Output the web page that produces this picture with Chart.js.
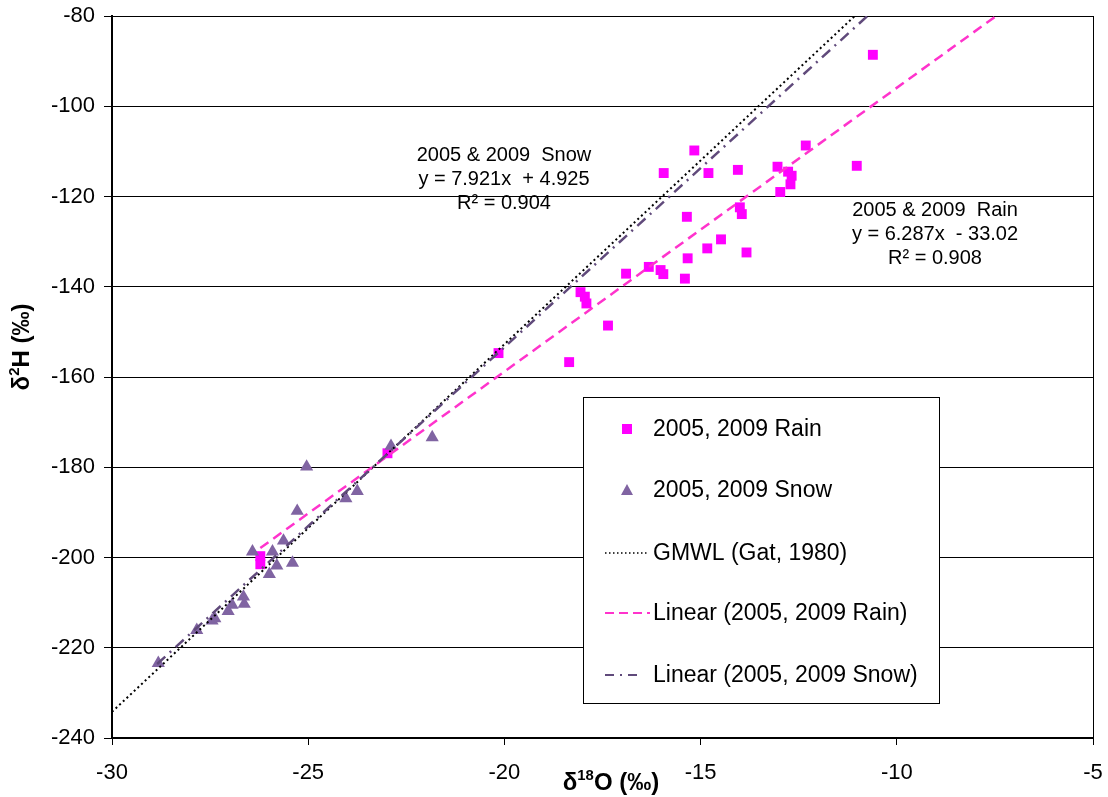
<!DOCTYPE html>
<html>
<head>
<meta charset="utf-8">
<script src="https://cdn.jsdelivr.net/npm/chart.js@4.4.1/dist/chart.umd.min.js"></script>
<style>
html, body { margin: 0; padding: 0; background: #fff; }
</style>
</head>
<body>
<canvas id="grafico-isotopos" width="1108" height="797"></canvas>
<script>
// valores (δ18O, δ2H em ‰)
const rainX = [-10.61, -11.02, -12.32, -13.04, -12.77, -12.68, -12.71, -12.97, -15.16, -15.94, -14.80,
    -14.05, -14.00, -13.95, -15.35, -14.48, -14.83, -13.83, -15.33, -15.40, -16.90, -16.32, -16.02,
    -15.95, -18.06, -17.95, -17.91, -17.36, -18.35, -20.15, -22.98, -26.22, -26.22];
const rainY = [-88.6, -113.2, -108.7, -113.4, -114.5, -115.4, -117.3, -119.0, -109.8, -114.8, -114.8,
    -114.1, -122.4, -123.9, -124.5, -129.5, -131.5, -132.4, -133.7, -138.2, -137.1, -135.6, -136.3,
    -137.2, -141.2, -142.2, -143.7, -148.6, -156.7, -154.7, -176.9, -199.7, -201.5];

const snowX = [-21.84, -22.89, -25.04, -23.75, -24.04, -25.28, -25.63, -26.42, -25.91, -25.40, -25.80,
    -25.99, -26.65, -26.63, -26.94, -27.04, -27.38, -27.45, -27.84, -28.82];
const snowY = [-173.4, -175.3, -179.9, -185.3, -186.9, -189.7, -196.3, -198.7, -198.7, -201.2, -201.8,
    -203.7, -208.7, -210.3, -210.5, -211.9, -213.5, -214.0, -216.1, -223.4];

// extremidades das retas
const gmwlX = [-30, -11.07];
const gmwlY = [-234.2, -80];
const rainFitX = [-26.22, -7.47];
const rainFitY = [-197.9, -80];
const snowFitX = [-28.85, -10.75];
const snowFitY = [-223.6, -80];

const xTicks = [-30, -25, -20, -15, -10, -5];
const yTicks = [-240, -220, -200, -180, -160, -140, -120, -100, -80];

const legendLabels = ['2005, 2009 Rain', '2005, 2009 Snow', 'GMWL (Gat, 1980)',
    'Linear (2005, 2009 Rain)', 'Linear (2005, 2009 Snow)'];
const snowNote = ['2005 & 2009  Snow', 'y = 7.921x  + 4.925', 'R² = 0.904'];
const rainNote = ['2005 & 2009  Rain', 'y = 6.287x  - 33.02', 'R² = 0.908'];

const FONT = '"Liberation Sans", Arial, sans-serif';
const RAIN = '#FF00FF';
const SNOW = '#8064A2';
const RAIN_FIT = '#FF33CC';
const SNOW_FIT = '#604A7B';

const pts = (xs, ys) => xs.map((x, i) => ({ x: x, y: ys[i] }));

function drawSupText(ctx, parts, cx, cy, size) {
    let w = 0;
    parts.forEach(p => {
        ctx.font = 'bold ' + (p.sup ? size * 0.62 : size) + 'px ' + FONT;
        p.w = ctx.measureText(p.t).width;
        w += p.w;
    });
    let x = cx - w / 2;
    parts.forEach(p => {
        ctx.font = 'bold ' + (p.sup ? size * 0.62 : size) + 'px ' + FONT;
        ctx.fillText(p.t, x, p.sup ? cy - size * 0.3 : cy);
        x += p.w;
    });
}

const extras = {
    id: 'extras',
    afterDraw(chart) {
        const ctx = chart.ctx;
        const a = chart.chartArea;
        ctx.save();

        // moldura direita
        ctx.strokeStyle = '#000';
        ctx.lineWidth = 1;
        ctx.beginPath();
        ctx.moveTo(Math.round(a.right) + 0.5, a.top);
        ctx.lineTo(Math.round(a.right) + 0.5, a.bottom);
        ctx.stroke();

        // equações
        ctx.fillStyle = '#000';
        ctx.font = '20px ' + FONT;
        ctx.textAlign = 'center';
        ctx.textBaseline = 'middle';
        snowNote.forEach((t, i) => ctx.fillText(t, 504, 155 + i * 24));
        rainNote.forEach((t, i) => ctx.fillText(t, 935, 210 + i * 24));

        // legenda
        ctx.fillStyle = '#fff';
        ctx.fillRect(583.5, 397.5, 356, 306);
        ctx.strokeStyle = '#000';
        ctx.strokeRect(583.5, 397.5, 356, 306);
        const rows = [429, 490, 553, 613, 675];
        ctx.textAlign = 'left';
        ctx.fillStyle = '#000';
        ctx.font = '23px ' + FONT;
        legendLabels.forEach((t, i) => ctx.fillText(t, 653, rows[i] + 1));

        ctx.fillStyle = RAIN;
        ctx.fillRect(622, rows[0] - 5, 10, 10);
        ctx.fillStyle = SNOW;
        ctx.beginPath();
        ctx.moveTo(627, rows[1] - 6);
        ctx.lineTo(633, rows[1] + 5);
        ctx.lineTo(621, rows[1] + 5);
        ctx.closePath();
        ctx.fill();

        const sample = (y, color, dash, width, x1) => {
            ctx.strokeStyle = color;
            ctx.lineWidth = width;
            ctx.setLineDash(dash);
            ctx.beginPath();
            ctx.moveTo(605, y);
            ctx.lineTo(x1, y);
            ctx.stroke();
        };
        sample(rows[2], '#000', [1.5, 2.5], 1.5, 647);
        sample(rows[3], RAIN_FIT, [9, 5], 2, 650);
        sample(rows[4], SNOW_FIT, [9, 6, 2, 6], 2, 643);
        ctx.setLineDash([]);

        // títulos dos eixos
        ctx.fillStyle = '#000';
        ctx.textAlign = 'left';
        ctx.textBaseline = 'middle';
        drawSupText(ctx, [{ t: 'δ' }, { t: '18', sup: true }, { t: 'O (‰)' }], 611, 783, 24);
        ctx.translate(22, 347);
        ctx.rotate(-Math.PI / 2);
        drawSupText(ctx, [{ t: 'δ' }, { t: '2', sup: true }, { t: 'H (‰)' }], 0, 0, 24);
        ctx.restore();
    }
};

const ctx = document.getElementById('grafico-isotopos').getContext('2d');
Chart.defaults.font.family = FONT;
Chart.defaults.color = '#000';

new Chart(ctx, {
    type: 'scatter',
    data: {
        datasets: [
            {
                label: legendLabels[0],
                data: pts(rainX, rainY),
                pointStyle: 'rect',
                pointRadius: 7,
                backgroundColor: RAIN,
                borderWidth: 0,
                order: 5
            },
            {
                label: legendLabels[1],
                data: pts(snowX, snowY),
                pointStyle: 'triangle',
                pointRadius: 7.6,
                backgroundColor: SNOW,
                borderWidth: 0,
                order: 4
            },
            {
                label: legendLabels[2],
                data: pts(gmwlX, gmwlY),
                showLine: true,
                pointRadius: 0,
                borderColor: '#000',
                borderWidth: 2,
                borderDash: [2, 3],
                order: 3
            },
            {
                label: legendLabels[3],
                data: pts(rainFitX, rainFitY),
                showLine: true,
                pointRadius: 0,
                borderColor: RAIN_FIT,
                borderWidth: 2.5,
                borderDash: [10, 6],
                order: 2
            },
            {
                label: legendLabels[4],
                data: pts(snowFitX, snowFitY),
                showLine: true,
                pointRadius: 0,
                borderColor: SNOW_FIT,
                borderWidth: 2.5,
                borderDash: [11, 6, 2, 6],
                order: 1
            }
        ]
    },
    options: {
        responsive: false,
        animation: false,
        layout: { padding: { top: 16, right: 15, left: 0, bottom: 0 } },
        plugins: {
            legend: { display: false },
            tooltip: { enabled: false }
        },
        scales: {
            x: {
                type: 'linear',
                min: -30,
                max: -5,
                afterFit: (s) => { s.height = 59; s.paddingLeft = 0; s.paddingRight = 0; },
                afterBuildTicks: (s) => { s.ticks = xTicks.map(v => ({ value: v })); },
                grid: { drawOnChartArea: false, drawTicks: true, tickLength: 7, color: '#000', lineWidth: 1 },
                border: { display: true, color: '#000', width: 2 },
                ticks: { font: { size: 22 }, color: '#000', padding: 15, maxRotation: 0 }
            },
            y: {
                type: 'linear',
                min: -240,
                max: -80,
                afterFit: (s) => { s.width = 112; s.paddingTop = 0; s.paddingBottom = 0; },
                afterBuildTicks: (s) => { s.ticks = yTicks.map(v => ({ value: v })); },
                grid: { drawTicks: true, tickLength: 8, color: '#000', lineWidth: 1 },
                border: { display: true, color: '#000', width: 2 },
                ticks: { font: { size: 22 }, color: '#000', padding: 9 }
            }
        }
    },
    plugins: [extras]
});
</script>
</body>
</html>
